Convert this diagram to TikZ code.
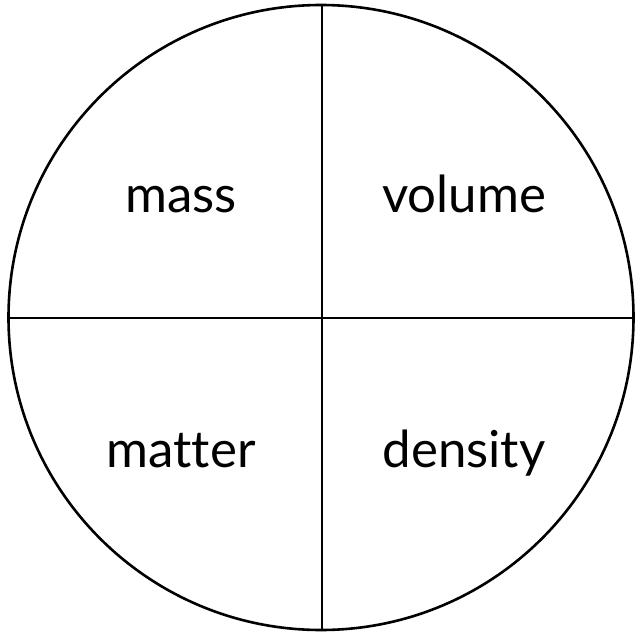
\documentclass[tikz,border=0pt]{standalone}
\usepackage{fontspec}
\setmainfont{Lato}[Ligatures={NoCommon}]
\begin{document}
\begin{tikzpicture}[x=1pt,y=-1pt,
  divider/.style={line width=2.6pt,black},
  lbl/.style={font=\fontsize{51}{58}\selectfont,anchor=base,inner sep=0pt}]
\useasboundingbox (0,0) rectangle (635,634);
\coordinate (c) at (321,317.5);
\coordinate (t) at (322,5);
\coordinate (b) at (322,630);
\coordinate (l) at (9,318);
\coordinate (r) at (633,318);
\draw[divider] (c) circle[radius=312.5];
\draw[divider] (t) -- (b);
\draw[divider] (l) -- (r);
\node[lbl] (mass) at (181,212) {mass};
\node[lbl] (volume) at (464,212) {volume};
\node[lbl] (matter) at (181,467) {matter};
\node[lbl] (density) at (464,467) {density};
\end{tikzpicture}
\end{document}
